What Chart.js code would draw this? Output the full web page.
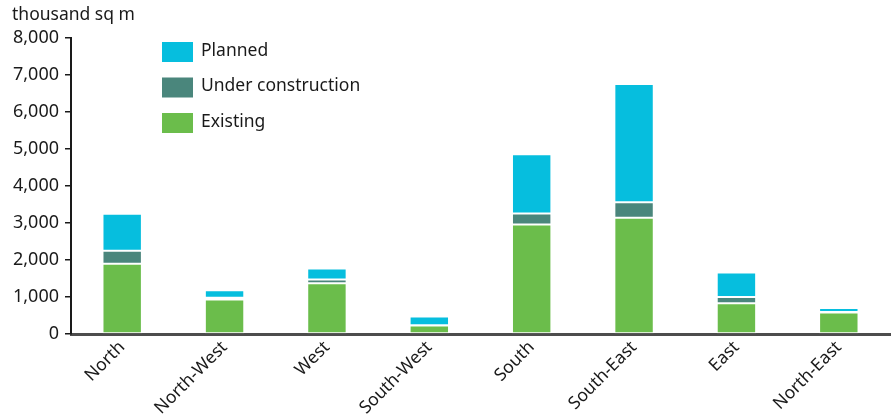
<!DOCTYPE html>
<html>
<head>
<meta charset="utf-8">
<script src="https://cdn.jsdelivr.net/npm/chart.js@4/dist/chart.umd.min.js"></script>
<style>
html,body{margin:0;padding:0;background:#fff;}
#wrap{width:892px;height:420px;position:relative;}
</style>
</head>
<body>
<div id="wrap"><canvas id="c" width="892" height="420"></canvas></div>
<script>
const categories = ["North","North-West","West","South-West","South","South-East","East","North-East"];
const existing = [1900, 930, 1370, 230, 2960, 3140, 830, 580];
const underConstruction = [350, 50, 100, 5, 300, 420, 170, 15];
const planned = [1000, 200, 300, 240, 1600, 3200, 660, 110];
const yTicks = [0,1000,2000,3000,4000,5000,6000,7000,8000];
const yTitle = "thousand sq m";

const FONT = "'Noto Sans', 'Open Sans', sans-serif";

const legendPlugin = {
  id: 'customLegend',
  afterDraw(chart) {
    const ctx = chart.ctx;
    const order = [2,1,0];
    ctx.save();
    ctx.font = "17.5px " + FONT;
    ctx.textBaseline = 'middle';
    ctx.textAlign = 'left';
    order.forEach((di, i) => {
      const ds = chart.data.datasets[di];
      const y = 52 + i * 35.5;
      ctx.fillStyle = ds.backgroundColor;
      ctx.fillRect(162, y - 10, 31, 20);
      ctx.fillStyle = '#1a1a1a';
      ctx.fillText(ds.label, 201, y - 1);
    });
    ctx.font = "17.5px " + FONT;
    ctx.fillText(yTitle, 12, 15);
    ctx.restore();
  }
};

new Chart(document.getElementById('c'), {
  type: 'bar',
  data: {
    labels: categories,
    datasets: [
      {label: 'Existing', data: existing, backgroundColor: '#6BBD4B', borderColor: '#ffffff', borderWidth: 1, borderSkipped: false},
      {label: 'Under construction', data: underConstruction, backgroundColor: '#4A867C', borderColor: '#ffffff', borderWidth: 1, borderSkipped: false},
      {label: 'Planned', data: planned, backgroundColor: '#06BEDE', borderColor: '#ffffff', borderWidth: 1, borderSkipped: false}
    ]
  },
  options: {
    responsive: false,
    animation: false,
    devicePixelRatio: 1,
    layout: {padding: {top: 38, right: 2, left: 0, bottom: 0}},
    plugins: {legend: {display: false}, tooltip: {enabled: false}},
    datasets: {bar: {categoryPercentage: 1, barPercentage: 0.385}},
    scales: {
      x: {
        stacked: true,
        grid: {display: false, drawTicks: false},
        border: {display: true, color: '#4d4d4d', width: 3},
        ticks: {color: '#1a1a1a', font: {family: FONT, size: 17.5}, minRotation: 45, maxRotation: 45, padding: 3},
        afterFit(s) { s.height = 86; }
      },
      y: {
        stacked: true,
        min: 0, max: 8000,
        afterBuildTicks(s) { s.ticks = yTicks.map(v => ({value: v})); },
        grid: {display: true, drawOnChartArea: false, drawTicks: true, tickLength: 6, color: '#1a1a1a', lineWidth: 1.5},
        border: {display: true, color: '#1a1a1a', width: 2},
        ticks: {color: '#1a1a1a', font: {family: FONT, size: 18}, padding: 6,
          callback: v => v.toLocaleString('en-US')},
        afterFit(s) { s.width = 71; }
      }
    }
  },
  plugins: [legendPlugin]
});
</script>
</body>
</html>
